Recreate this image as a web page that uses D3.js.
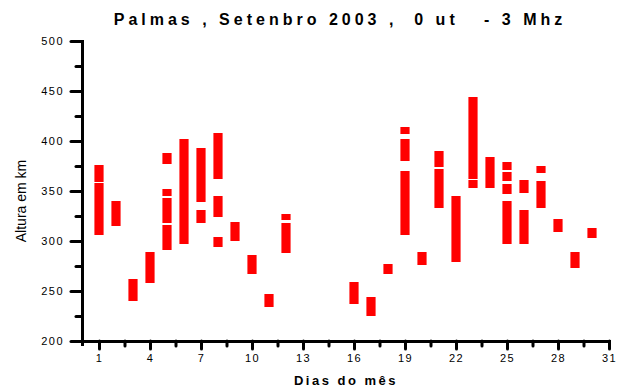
<!DOCTYPE html>
<html>
<head>
<meta charset="utf-8">
<script src="https://cdn.jsdelivr.net/npm/d3@7"></script>
<style>
  body { margin: 0; background: #fff; }
  svg { display: block; }
  text { font-family: "Liberation Sans", Arial, sans-serif; fill: #000; }
</style>
</head>
<body>
<svg id="chart" width="619" height="388"></svg>
<script>
// one entry per red segment: day, lower and upper height (km)
var segDay  = [1, 1, 2, 3, 4, 5, 5, 5, 5, 6, 7, 7, 8, 8, 8, 9, 10, 11, 12, 12,
               16, 17, 18, 19, 19, 19, 20, 21, 21, 22, 23, 23, 24, 25, 25, 25, 25,
               26, 26, 27, 27, 28, 29, 30]
var segLow  = [359, 306, 315, 240, 258, 377, 345, 318, 291, 297, 339, 318, 362, 324, 294, 300, 267, 234, 321, 288,
               237, 225, 267, 407, 380, 306, 276, 374, 333, 279, 362, 353, 353, 371, 360, 347, 297,
               348, 297, 368, 333, 309, 273, 303]
var segHigh = [376, 358, 340, 262, 289, 388, 352, 343, 316, 402, 393, 331, 408, 345, 304, 319, 286, 247, 327, 318,
               259, 244, 277, 414, 402, 370, 289, 390, 372, 345, 444, 361, 384, 379, 369, 357, 340,
               361, 331, 375, 360, 322, 289, 313]

var xMajor = [1, 4, 7, 10, 13, 16, 19, 22, 25, 28, 31]
var xMinor = [2.5, 5.5, 8.5, 11.5, 14.5, 17.5, 20.5, 23.5, 26.5, 29.5]
var yMajor = [200, 250, 300, 350, 400, 450, 500]
var yMinor = [225, 275, 325, 375, 425, 475]

var svg = d3.select('#chart')

var x = d3.scaleLinear().domain([0, 31]).range([82, 609])
var y = d3.scaleLinear().domain([200, 500]).range([341, 41])
var barW = x(0.54) - x(0)

var segs = segDay.map((d, i) => ({ day: d, lo: segLow[i], hi: segHigh[i] }))

svg.append('g')
  .selectAll('rect')
  .data(segs)
  .enter()
  .append('rect')
  .attr('x', (d) => x(d.day) - barW / 2)
  .attr('y', (d) => y(d.hi))
  .attr('width', barW)
  .attr('height', (d) => y(d.lo) - y(d.hi))
  .attr('fill', '#ff0000')

// axes
function styleAxis(g) {
  g.select('.domain').attr('stroke', '#000').attr('stroke-width', 3)
  g.selectAll('.tick line').attr('stroke', '#000').attr('stroke-width', 3).attr('stroke-linecap', 'round')
  g.selectAll('.tick text')
    .style('font-family', '"Liberation Sans", Arial, sans-serif')
    .style('font-size', '11px')
    .style('letter-spacing', '1.5px')
}

svg.append('g')
  .attr('transform', `translate(${x(0)},0)`)
  .call(d3.axisLeft(y).tickValues(yMinor).tickSize(6).tickFormat(''))
  .call(styleAxis)

svg.append('g')
  .attr('transform', `translate(${x(0)},0)`)
  .call(d3.axisLeft(y).tickValues(yMajor).tickSize(11).tickSizeOuter(0).tickPadding(7))
  .call(styleAxis)

svg.append('g')
  .attr('transform', `translate(0,${y(200)})`)
  .call(d3.axisBottom(x).tickValues(xMinor).tickSize(5).tickFormat(''))
  .call(styleAxis)

svg.append('g')
  .attr('transform', `translate(0,${y(200)})`)
  .call(d3.axisBottom(x).tickValues(xMajor).tickSize(8).tickSizeOuter(0).tickPadding(5))
  .call(styleAxis)

// titles
svg.append('text')
  .attr('x', 340)
  .attr('y', 25)
  .attr('text-anchor', 'middle')
  .style('font-size', '16px')
  .style('font-weight', 'bold')
  .style('letter-spacing', '4px')
  .style('white-space', 'pre')
  .text('Palmas , Setenbro 2003 ,  0 ut   - 3 Mhz')

svg.append('text')
  .attr('x', 346)
  .attr('y', 385)
  .attr('text-anchor', 'middle')
  .style('font-size', '13px')
  .style('font-weight', 'bold')
  .style('letter-spacing', '2.5px')
  .text('Dias do mês')

svg.append('text')
  .attr('transform', 'translate(26,201) rotate(-90)')
  .attr('text-anchor', 'middle')
  .style('font-size', '14px')
  .text('Altura em km')
</script>
</body>
</html>
